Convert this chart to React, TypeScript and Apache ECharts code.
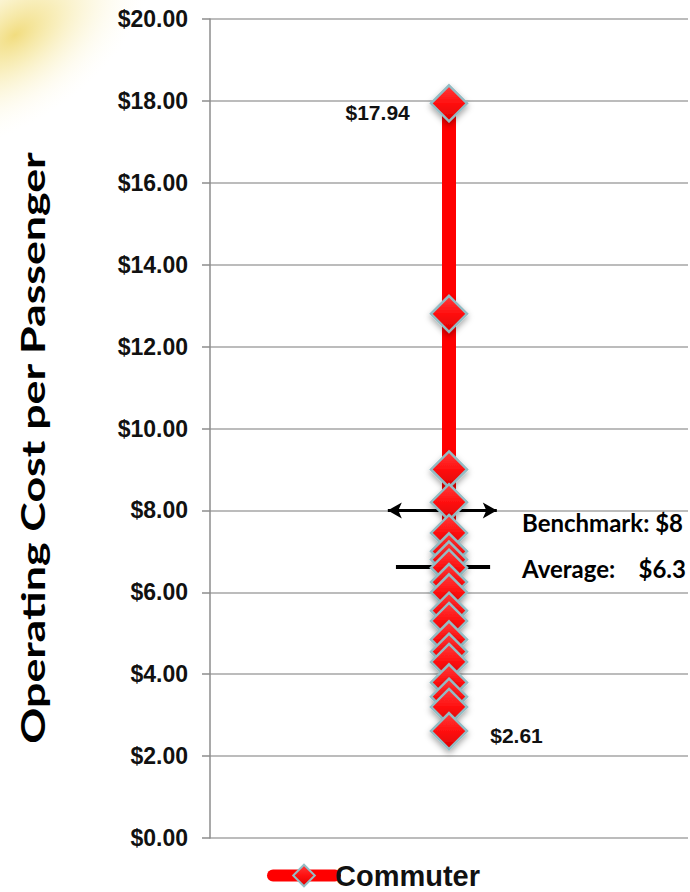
import React, { useEffect, useRef } from "react";
import * as echarts from "echarts";

const seriesName = "Commuter";
const costValues = [17.94, 12.8, 9.0, 8.2, 7.45, 7.0, 6.8, 6.6, 6.25, 6.0, 5.55, 5.3, 4.85, 4.55, 4.3, 3.8, 3.45, 3.2, 2.61];
const labelledValues = [17.94, 2.61];
const benchmarkValue = 8;
const averageValue = 6.62;
const benchmarkText = "Benchmark: $8";
const averageText = "Average:    $6.3";
const axisTitle = "Operating Cost per Passenger";
const yMin = 0;
const yMax = 20;
const yInterval = 2;

export default function App() {
  const ref = useRef<HTMLDivElement>(null);
  useEffect(() => {
    if (!ref.current) return;
    const chart = echarts.init(ref.current, undefined, { renderer: "svg" });
    const xPos = 0.5;
    const markerFill = {
      type: "linear",
      x: 0,
      y: 0,
      x2: 0,
      y2: 1,
      colorStops: [
        { offset: 0, color: "#ff3b3b" },
        { offset: 0.5, color: "#ff1010" },
        { offset: 1, color: "#dd0000" },
      ],
    };
    const data = costValues.map((v) => {
      const item: any = { value: [xPos, v] };
      if (v === labelledValues[0]) {
        item.label = {
          show: true,
          position: "left",
          distance: 20,
          offset: [0, 9],
          formatter: () => "$" + v.toFixed(2),
          fontFamily: "Liberation Sans",
          fontWeight: "bold",
          fontSize: 21,
          color: "#111",
        };
      } else if (v === labelledValues[1]) {
        item.label = {
          show: true,
          position: "right",
          distance: 22,
          offset: [0, 4],
          formatter: () => "$" + v.toFixed(2),
          fontFamily: "Liberation Sans",
          fontWeight: "bold",
          fontSize: 21,
          color: "#111",
        };
      }
      return item;
    });
    chart.setOption({
      animation: false,
      backgroundColor: "#ffffff",
      grid: { left: 210, right: 2, top: 19, bottom: 54 },
      xAxis: {
        type: "value",
        min: 0,
        max: 1,
        show: false,
      },
      yAxis: {
        type: "value",
        min: yMin,
        max: yMax,
        interval: yInterval,
        axisLine: { show: true, lineStyle: { color: "#8c8c8c", width: 1.5 } },
        axisTick: { show: true, length: 8, lineStyle: { color: "#8c8c8c", width: 1.5 } },
        splitLine: { show: true, lineStyle: { color: "#a6a6a6", width: 1.5 } },
        axisLabel: {
          formatter: (v: number) => "$" + v.toFixed(2),
          fontFamily: "Liberation Sans",
          fontWeight: "bold",
          fontSize: 23,
          color: "#111",
          margin: 22,
        },
      },
      legend: {
        data: [seriesName],
        left: 262,
        top: 856,
        itemWidth: 62,
        itemHeight: 27,
        itemGap: 0,
        lineStyle: { width: 12, cap: "round", color: "#ff0000" },
        itemStyle: { color: markerFill, borderColor: "#93bcc4", borderWidth: 2 },
        textStyle: { fontFamily: "Liberation Sans", fontWeight: "bold", fontSize: 29, lineHeight: 29, color: "#111", padding: [0, 0, 0, -5] },
      },
      series: [
        {
          name: seriesName,
          type: "line",
          data,
          symbol: "diamond",
          symbolSize: 36,
          lineStyle: { color: "#ff0000", width: 14 },
          itemStyle: {
            color: markerFill,
            borderColor: "#93bcc4",
            borderWidth: 2.5,
            shadowBlur: 6,
            shadowColor: "rgba(0,0,0,0.35)",
            shadowOffsetY: 3,
          },
          z: 3,
          markLine: {
            silent: true,
            z: 2,
            label: { show: false },
            data: [
              [
                { coord: [0.372, benchmarkValue], symbol: "arrow", symbolSize: [12, 14], lineStyle: { color: "#000", width: 3, type: "solid" } },
                { coord: [0.6, benchmarkValue], symbol: "arrow", symbolSize: [12, 14] },
              ],
              [
                { coord: [0.389, averageValue], symbol: "none", lineStyle: { color: "#000", width: 4, type: "solid" } },
                { coord: [0.586, averageValue], symbol: "none" },
              ],
            ],
          },
        },
      ],
      graphic: [
        {
          type: "ellipse",
          z: -10,
          x: 15,
          y: 35,
          rotation: Math.PI / 5,
          shape: { cx: 0, cy: 0, rx: 155, ry: 85 },
          style: {
            fill: {
              type: "radial",
              x: 0.5,
              y: 0.5,
              r: 0.5,
              colorStops: [
                { offset: 0, color: "rgba(238,212,95,0.8)" },
                { offset: 0.3, color: "rgba(243,224,130,0.55)" },
                { offset: 0.7, color: "rgba(250,240,190,0.22)" },
                { offset: 1, color: "rgba(255,252,235,0)" },
              ],
            },
          },
          silent: true,
        },
        {
          type: "text",
          x: 32,
          y: 448,
          rotation: Math.PI / 2,
          scaleX: 1.49,
          scaleY: 1.08,
          style: {
            text: axisTitle,
            fontFamily: "Lato",
            fontWeight: "bold",
            fontSize: 30,
            fill: "#000",
            align: "center",
            verticalAlign: "middle",
          },
        },
        {
          type: "text",
          x: 522,
          y: 522,
          style: {
            text: benchmarkText,
            fontFamily: "Lato",
            fontWeight: "bold",
            fontSize: 24,
            fill: "#000",
            align: "left",
            verticalAlign: "middle",
          },
        },
        {
          type: "text",
          x: 522,
          y: 568,
          style: {
            text: averageText,
            fontFamily: "Lato",
            fontWeight: "bold",
            fontSize: 24,
            fill: "#000",
            align: "left",
            verticalAlign: "middle",
          },
        },
      ],
    });
    return () => chart.dispose();
  }, []);
  return (
    <div
      ref={ref}
      style={{ position: "fixed", left: 0, top: 0, width: 690, height: 892, background: "#fff" }}
    />
  );
}
